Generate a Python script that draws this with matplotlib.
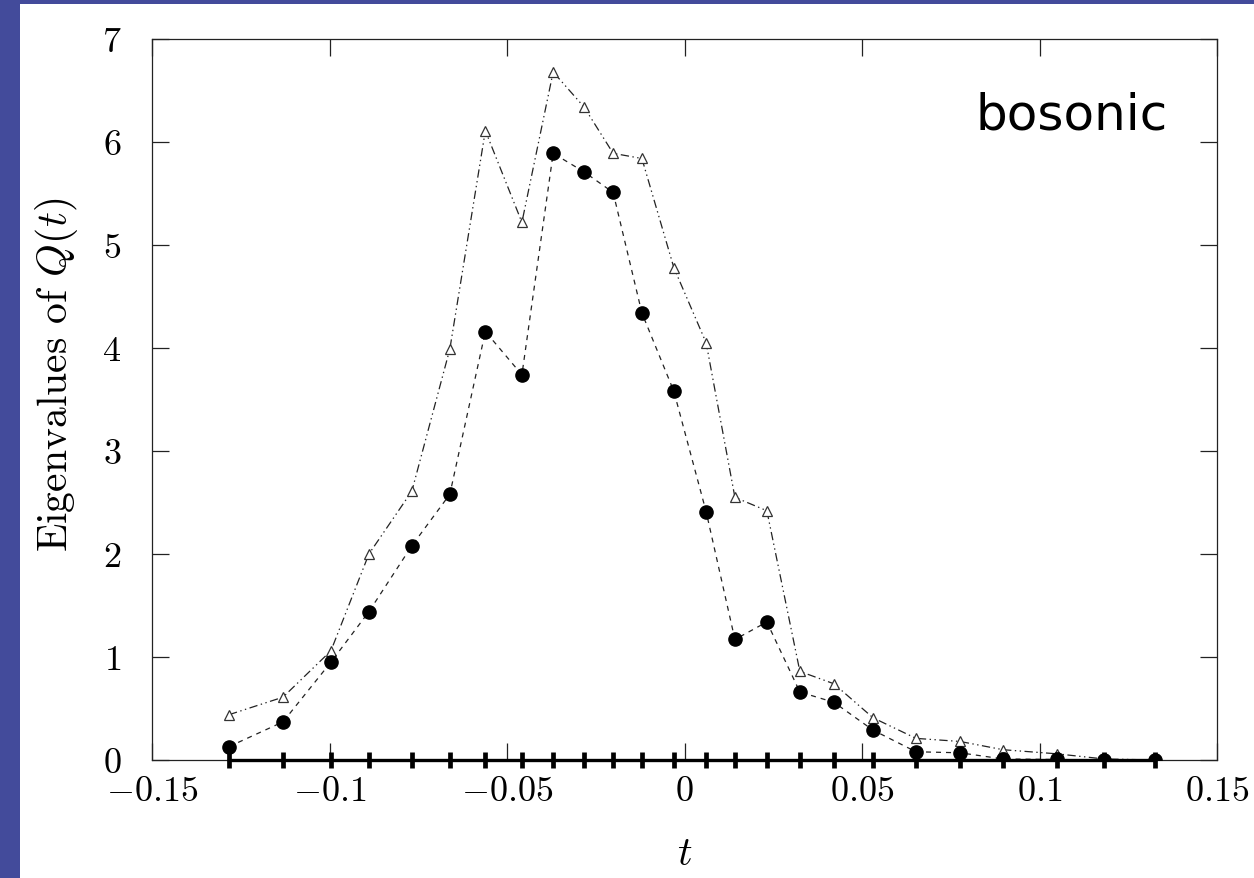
import matplotlib
matplotlib.use("Agg")
import matplotlib.pyplot as plt
from matplotlib.patches import Rectangle

plt.rcParams['font.family'] = 'serif'
plt.rcParams['font.serif'] = ['cmr10']
plt.rcParams['mathtext.fontset'] = 'cm'
plt.rcParams['axes.formatter.use_mathtext'] = True
plt.rcParams['lines.scale_dashes'] = False

# sample times
t = [-0.1283, -0.1131, -0.0996, -0.0889, -0.0768, -0.0661, -0.0561, -0.0458,
     -0.0370, -0.0283, -0.0201, -0.0120, -0.0030, 0.0061, 0.0142, 0.0232,
     0.0325, 0.0421, 0.0531, 0.0652, 0.0776, 0.0897, 0.1049, 0.1182, 0.1325]

# largest eigenvalue (triangles)
ev1 = [0.44, 0.61, 1.06, 2.00, 2.61, 3.99, 6.11, 5.22, 6.68, 6.34, 5.89, 5.84,
       4.78, 4.05, 2.55, 2.42, 0.86, 0.74, 0.41, 0.21, 0.18, 0.10, 0.06, 0.01, 0.0]

# second eigenvalue (filled circles)
ev2 = [0.13, 0.37, 0.95, 1.44, 2.08, 2.58, 4.16, 3.74, 5.89, 5.71, 5.51, 4.34,
       3.58, 2.41, 1.17, 1.34, 0.66, 0.56, 0.29, 0.08, 0.07, 0.01, 0.005, 0.0, 0.0]

# remaining eigenvalues (all zero)
ev3 = [0.0, 0.0, 0.0, 0.0, 0.0, 0.0, 0.0, 0.0, 0.0, 0.0, 0.0, 0.0, 0.0,
       0.0, 0.0, 0.0, 0.0, 0.0, 0.0, 0.0, 0.0, 0.0, 0.0, 0.0, 0.0]

xticks = [-0.15, -0.1, -0.05, 0, 0.05, 0.1, 0.15]
xlabels = ['$-0.15$', '$-0.1$', '$-0.05$', '$0$', '$0.05$', '$0.1$', '$0.15$']
yticks = [0, 1, 2, 3, 4, 5, 6, 7]
ylabels = ['$0$', '$1$', '$2$', '$3$', '$4$', '$5$', '$6$', '$7$']

W, H = 1254, 879
fig = plt.figure(figsize=(W / 100, H / 100), dpi=100)
fig.patch.set_facecolor('white')
# blue slide border
fig.patches.append(Rectangle((0, 0), 20 / W, 1, transform=fig.transFigure,
                             facecolor='#434b9b', edgecolor='none', zorder=-5))
fig.patches.append(Rectangle((0, 1 - 5 / H), 1, 5 / H, transform=fig.transFigure,
                             facecolor='#434b9b', edgecolor='none', zorder=-5))

ax = fig.add_axes([152 / W, 1 - 761 / H, (1217 - 152) / W, (761 - 40) / H])

ax.plot(t, ev1, color='#222222', lw=0.9, dashes=(6, 2.5, 1, 2.5, 1, 2.5),
        marker='^', ms=7.5, mfc='white', mec='#333333', mew=0.9, zorder=3)
ax.plot(t, ev2, color='#222222', lw=0.9, dashes=(3.6, 3.6),
        marker='o', ms=9.5, mfc='black', mec='black', zorder=4)
ax.plot(t, ev3, color='black', lw=2.4, marker='|', ms=11, mew=3.4,
        zorder=5, clip_on=False)

ax.set_xlim(-0.15, 0.15)
ax.set_ylim(0, 7)
ax.set_xticks(xticks, xlabels)
ax.set_yticks(yticks, ylabels)
ax.tick_params(direction='in', length=12, width=0.9, top=True, right=True,
               labelsize=26, colors='#222222', labelcolor='black')
ax.tick_params(axis='x', pad=11)
ax.tick_params(axis='y', pad=22)
for s in ax.spines.values():
    s.set_linewidth(0.9)
    s.set_color('#222222')

fig.text(685 / W, 1 - 855 / H, '$t$', fontsize=29, ha='center', va='center')
fig.text(57 / W, 1 - 375 / H, 'Eigenvalues of $Q(t)$', fontsize=30,
         rotation=90, ha='center', va='center')

fig.text(975 / W, 1 - 130 / H, 'bosonic', fontsize=36,
         family='DejaVu Sans', color='black', ha='left', va='baseline')

fig.savefig('out.png', dpi=100)
